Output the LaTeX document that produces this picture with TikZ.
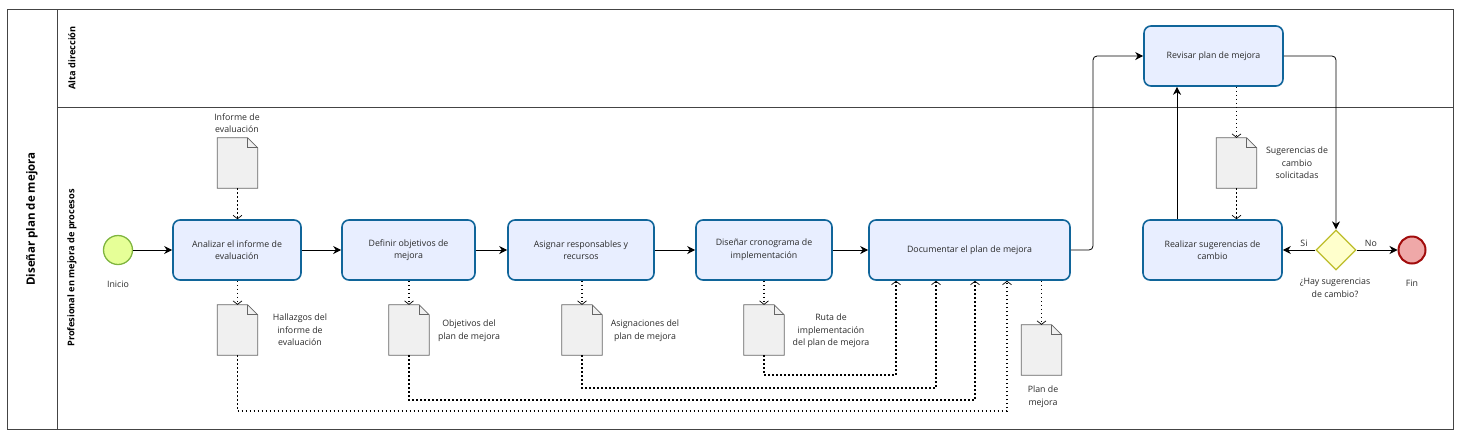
\documentclass[tikz,border=0pt]{standalone}
\usepackage{fontspec}
\setmainfont{Open Sans}
\usetikzlibrary{arrows.meta,shapes.geometric,positioning}

\definecolor{taskfill}{HTML}{E8EEFF}
\definecolor{taskline}{HTML}{10659A}
\definecolor{startfill}{HTML}{E6FF97}
\definecolor{startline}{HTML}{7FB53F}
\definecolor{endfill}{HTML}{EFA8A8}
\definecolor{endline}{HTML}{A10C0C}
\definecolor{gatefill}{HTML}{FFFFCC}
\definecolor{gateline}{HTML}{BDBD2A}
\definecolor{docfill}{HTML}{F0F0F0}
\definecolor{docline}{HTML}{666666}
\definecolor{poolline}{HTML}{444444}
\definecolor{txtcol}{HTML}{2A2A2A}

\newcommand{\txt}{\fontsize{8.8}{12.6}\selectfont}

\tikzset{
  task/.style={draw=taskline, fill=taskfill, line width=1.6pt, rounded corners=7pt,
    minimum height=60pt, align=center, font=\txt, text=txtcol, inner sep=2pt},
  docnode/.style={minimum width=40pt, minimum height=50pt, inner sep=0pt},
  lbl/.style={align=center, font=\txt, text=txtcol, inner sep=1pt},
  lanelbl/.style={rotate=90, font=\fontsize{9.2}{11}\selectfont\bfseries},
  flow/.style={line width=0.8pt, -{Stealth[length=8pt,width=8pt,inset=2.5pt]}},
  assoc/.style={line width=1.5pt, dash pattern=on 1.5pt off 2.5pt,
    -{Straight Barb[length=3.5pt,width=9pt,line width=0.7pt]}},
}

\begin{document}
\begin{tikzpicture}[x=1pt, y=-1pt]
  \useasboundingbox (0,0) rectangle (1464,437);

  % pool and lanes
  \draw[poolline, line width=1pt] (7,9) rectangle (1453,429);
  \draw[poolline, line width=1pt] (57,9) -- (57,429);
  \draw[poolline, line width=1pt] (57,107) -- (1453,107);
  \node[rotate=90, font=\fontsize{11.5}{13}\selectfont\bfseries] (pool) at (32,219) {Diseñar plan de mejora};
  \node[lanelbl] (laneAlta) at (72,58) {Alta dirección};
  \node[lanelbl] (lanePro) at (72,268) {Profesional en mejora de procesos};

  % events and gateway
  \node[circle, draw=startline, fill=startfill, line width=1.3pt, minimum size=29pt, inner sep=0pt] (inicio) at (118,250) {};
  \node[lbl] (lblInicio) at (118,284) {Inicio};
  \node[circle, draw=endline, fill=endfill, line width=2pt, minimum size=27pt, inner sep=0pt] (fin) at (1412,250) {};
  \node[lbl] (lblFin) at (1412,283) {Fin};
  \node[diamond, aspect=1, draw=gateline, fill=gatefill, line width=1.3pt, minimum size=40pt, inner sep=0pt] (gate) at (1336,250) {};
  \node[lbl] (lblGate) at (1335,288) {¿Hay sugerencias\\de cambio?};

  % tasks
  \node[task, minimum width=128pt] (analizar) at (237,250) {Analizar el informe de\\evaluación};
  \node[task, minimum width=133pt] (definir) at (408.5,250) {Definir objetivos de\\mejora};
  \node[task, minimum width=146pt] (asignar) at (581,250) {Asignar responsables y\\recursos};
  \node[task, minimum width=136pt] (cronograma) at (764,250) {Diseñar cronograma de\\implementación};
  \node[task, minimum width=201pt] (documentar) at (969.5,250) {Documentar el plan de mejora};
  \node[task, minimum width=139pt] (revisar) at (1213.5,56) {Revisar plan de mejora};
  \node[task, minimum width=139pt] (realizar) at (1212.5,250) {Realizar sugerencias de\\cambio};

  % documents
  \node[docnode] (dInforme) at (237.5,163) {};
  \node[docnode] (dHallazgos) at (237.5,330) {};
  \node[docnode] (dObjetivos) at (409,330) {};
  \node[docnode] (dAsignaciones) at (582,330) {};
  \node[docnode] (dRuta) at (764,330) {};
  \node[docnode] (dPlan) at (1041.5,350) {};
  \node[docnode] (dSugerencias) at (1236.5,163) {};
  \foreach \d in {dInforme,dHallazgos,dObjetivos,dAsignaciones,dRuta,dPlan,dSugerencias}{
    \draw[docline, fill=docfill, line width=0.8pt] (\d.south west) -- (\d.north west)
      -- ([xshift=-10pt]\d.north east) -- ([yshift=-10pt]\d.north east) -- (\d.south east) -- cycle;
    \draw[docline, line width=0.8pt] ([xshift=-10pt]\d.north east) -- ([xshift=-10pt,yshift=-10pt]\d.north east)
      -- ([yshift=-10pt]\d.north east);
  }
  \node[lbl] (lblInforme) at (237,123) {Informe de\\evaluación};
  \node[lbl] (lblHallazgos) at (300,330) {Hallazgos del\\informe de\\evaluación};
  \node[lbl] (lblObjetivos) at (469,331) {Objetivos del\\plan de mejora};
  \node[lbl] (lblAsignaciones) at (645,331) {Asignaciones del\\plan de mejora};
  \node[lbl] (lblRuta) at (831,331) {Ruta de\\implementación\\del plan de mejora};
  \node[lbl] (lblPlan) at (1043,397) {Plan de\\mejora};
  \node[lbl] (lblSugerencias) at (1297,163) {Sugerencias de\\cambio\\solicitadas};

  % sequence flows
  \draw[flow] (inicio) -- (analizar);
  \draw[flow] (analizar) -- (definir);
  \draw[flow] (definir) -- (asignar);
  \draw[flow] (asignar) -- (cronograma);
  \draw[flow] (cronograma) -- (documentar);
  \draw[flow, rounded corners=4pt] (documentar.east) -| (1093,150) |- (revisar.west);
  \draw[flow, rounded corners=4pt] (revisar.east) -| (gate.north);
  \draw[flow] (gate.west) -- (realizar.east) node[lbl, pos=0.35, above=2pt] (lblSi) {Si};
  \draw[flow] (gate.east) -- (fin.west) node[lbl, pos=0.35, above=2pt] (lblNo) {No};
  \draw[flow] (realizar.north -| 1177,0) -- (revisar.south -| 1177,0);

  % data associations
  \draw[assoc] (dInforme.south) -- (analizar.north -| dInforme.south);
  \draw[assoc] (analizar.south -| dHallazgos.north) -- (dHallazgos.north);
  \draw[assoc] (definir.south -| dObjetivos.north) -- (dObjetivos.north);
  \draw[assoc] (asignar.south -| dAsignaciones.north) -- (dAsignaciones.north);
  \draw[assoc] (cronograma.south -| dRuta.north) -- (dRuta.north);
  \draw[assoc] (documentar.south -| dPlan.north) -- (dPlan.north);
  \draw[assoc] (revisar.south -| dSugerencias.north) -- (dSugerencias.north);
  \draw[assoc] (dSugerencias.south) -- (realizar.north -| dSugerencias.south);
  \draw[assoc] (dHallazgos.south) |- (1007,411) -- (documentar.south -| 1007,0);
  \draw[assoc] (dObjetivos.south) |- (975,400) -- (documentar.south -| 975,0);
  \draw[assoc] (dAsignaciones.south) |- (936,388) -- (documentar.south -| 936,0);
  \draw[assoc] (dRuta.south) |- (896,375) -- (documentar.south -| 896,0);
\end{tikzpicture}
\end{document}
